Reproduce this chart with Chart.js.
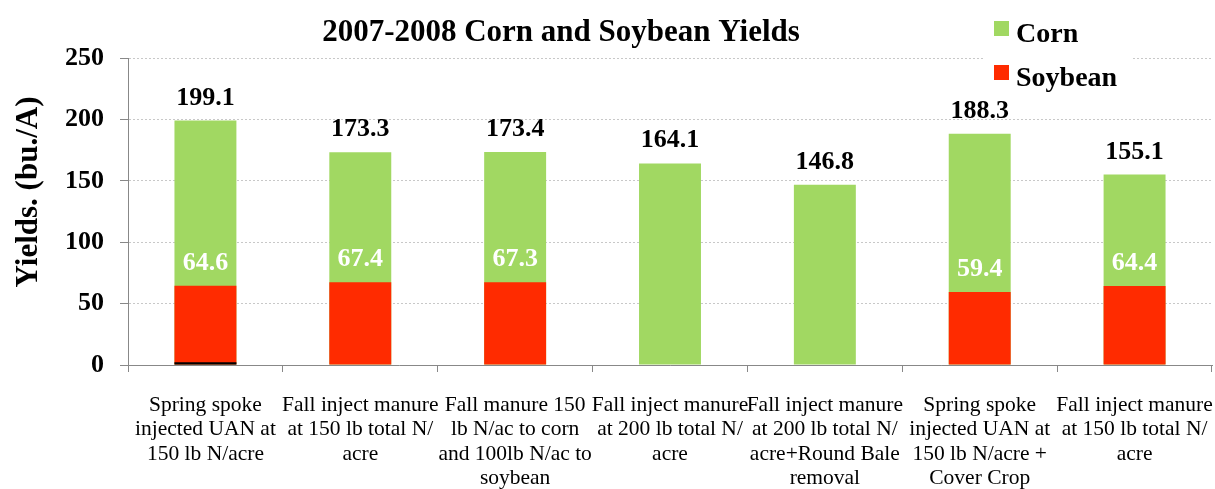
<!DOCTYPE html>
<html>
<head>
<meta charset="utf-8">
<script src="https://cdn.jsdelivr.net/npm/chart.js@4"></script>
<style>
  html, body { margin: 0; padding: 0; background: #fff; }
  #wrap { width: 1215px; height: 489px; }
</style>
</head>
<body>
<div id="wrap"><canvas id="yieldChart" width="1215" height="489"></canvas></div>
<script>
const categories = [
    ['Spring spoke', 'injected UAN at', '150 lb N/acre'],
    ['Fall inject manure', 'at 150 lb total N/', 'acre'],
    ['Fall manure 150', 'lb N/ac to corn', 'and 100lb N/ac to', 'soybean'],
    ['Fall inject manure', 'at 200 lb total N/', 'acre'],
    ['Fall inject manure', 'at 200 lb total N/', 'acre+Round Bale', 'removal'],
    ['Spring spoke', 'injected UAN at', '150 lb N/acre +', 'Cover Crop'],
    ['Fall inject manure', 'at 150 lb total N/', 'acre']
];
const cornYield = [199.1, 173.3, 173.4, 164.1, 146.8, 188.3, 155.1];
const soyYield = [64.6, 67.4, 67.3, null, null, 59.4, 64.4];
const otherYield = [2.2, null, null, null, null, null, null];
const yTicks = [0, 50, 100, 150, 200, 250];

const serif = '"Liberation Serif", "Times New Roman", serif';
const green = '#a1d862';
const red = '#ff2b00';

// title, axis title and legend drawn on the canvas
const decorations = {
    id: 'decorations',
    afterDraw(chart) {
        const ctx = chart.ctx;
        ctx.save();
        ctx.fillStyle = '#000';
        ctx.font = 'bold 31px ' + serif;
        ctx.textAlign = 'center';
        ctx.textBaseline = 'alphabetic';
        ctx.fillText('2007-2008 Corn and Soybean Yields', 561, 41);

        ctx.save();
        ctx.translate(37, 192);
        ctx.rotate(-Math.PI / 2);
        ctx.font = 'bold 31px ' + serif;
        ctx.fillText('Yields. (bu./A)', 0, 0);
        ctx.restore();

        ctx.fillStyle = '#fff';
        ctx.fillRect(985, 0, 146, 92);
        const items = [['Corn', green, 21, 42], ['Soybean', red, 65, 86]];
        ctx.textAlign = 'left';
        ctx.font = 'bold 28px ' + serif;
        items.forEach(([txt, col, sy, by]) => {
            ctx.fillStyle = col;
            ctx.fillRect(994, sy, 15, 15);
            ctx.fillStyle = '#000';
            ctx.fillText(txt, 1016, by);
        });
        ctx.restore();
    }
};

const valueLabels = {
    id: 'valueLabels',
    afterDatasetsDraw(chart) {
        const ctx = chart.ctx;
        ctx.save();
        ctx.font = 'bold 26px ' + serif;
        ctx.textAlign = 'center';
        ctx.textBaseline = 'alphabetic';
        chart.data.datasets.forEach((ds, di) => {
            if (!ds.labelColor) return;
            chart.getDatasetMeta(di).data.forEach((bar, i) => {
                const v = ds.data[i];
                if (v == null) return;
                ctx.fillStyle = ds.labelColor;
                ctx.fillText(v.toFixed(1), bar.x, bar.y - 16);
            });
        });
        ctx.restore();
    }
};

const ctx = document.getElementById('yieldChart').getContext('2d');
const chart = new Chart(ctx, {
    type: 'bar',
    data: {
        labels: categories,
        datasets: [
            { label: 'Corn', data: cornYield, backgroundColor: green, order: 3, labelColor: '#000' },
            { label: 'Soybean', data: soyYield, backgroundColor: red, order: 2, labelColor: '#fff' },
            { label: 'Other', data: otherYield, backgroundColor: '#000', order: 1 }
        ]
    },
    options: {
        responsive: false,
        animation: false,
        layout: { padding: { top: 58, right: 3, left: 0, bottom: 0 } },
        categoryPercentage: 1,
        barPercentage: 0.4,
        plugins: {
            legend: { display: false },
            title: { display: false },
            tooltip: { enabled: false }
        },
        scales: {
            x: {
                stacked: true,
                grid: { drawOnChartArea: false, offset: true, tickLength: 7, color: '#888' },
                border: { color: '#888' },
                ticks: {
                    color: '#000',
                    font: { family: serif, size: 21.5, lineHeight: 1.14 },
                    maxRotation: 0,
                    minRotation: 0,
                    autoSkip: false,
                    padding: 21
                },
                afterFit(scale) {
                    scale.height = 124;
                    scale.paddingLeft = 0;
                    scale.paddingRight = 0;
                }
            },
            y: {
                stacked: false,
                min: 0,
                max: 250,
                afterBuildTicks(scale) { scale.ticks = yTicks.map(v => ({ value: v })); },
                grid: { color: '#c8c8c8', tickColor: '#888', tickLength: 8 },
                border: { color: '#888', dash: [2, 2] },
                ticks: {
                    color: '#000',
                    font: { family: serif, size: 26, weight: 'bold' },
                    padding: 16
                },
                afterFit(scale) { scale.width = 128; }
            }
        }
    },
    plugins: [valueLabels, decorations]
});
</script>
</body>
</html>
